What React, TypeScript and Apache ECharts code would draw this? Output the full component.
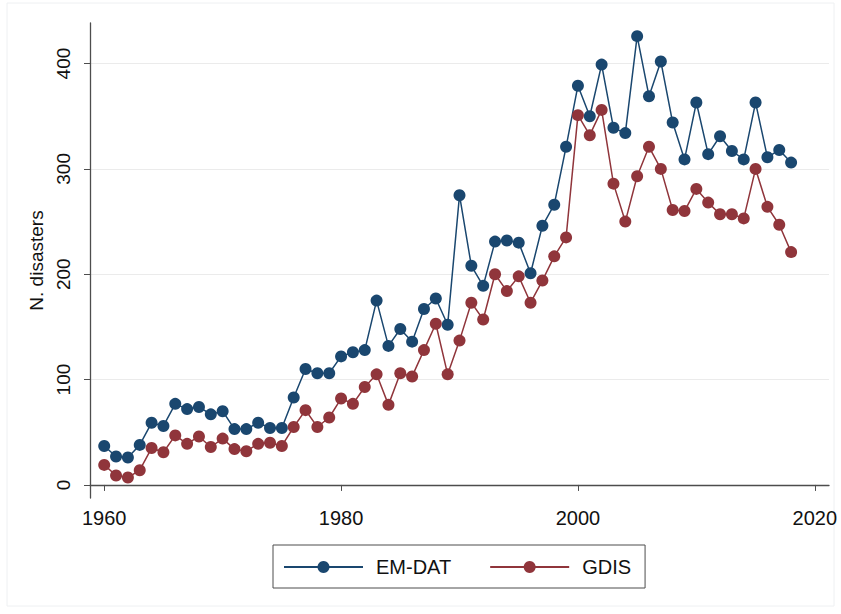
import React, { useEffect, useRef } from "react";
import * as echarts from "echarts";

const years: number[] = [];
for (let y = 1960; y <= 2018; y++) years.push(y);

const emdat = [
  37, 27, 26, 38, 59, 56, 77, 72, 74, 67,
  70, 53, 53, 59, 54, 54, 83, 110, 106, 106,
  122, 126, 128, 175, 132, 148, 136, 167, 177, 152,
  275, 208, 189, 231, 232, 230, 201, 246, 266, 321,
  379, 350, 399, 339, 334, 426, 369, 402, 344, 309,
  363, 314, 331, 317, 309, 363, 311, 318, 306,
];

const gdis = [
  19, 9, 7, 14, 35, 31, 47, 39, 46, 36,
  44, 34, 32, 39, 40, 37, 55, 71, 55, 64,
  82, 77, 93, 105, 76, 106, 103, 128, 153, 105,
  137, 173, 157, 200, 184, 198, 173, 194, 217, 235,
  351, 332, 356, 286, 250, 293, 321, 300, 261, 260,
  281, 268, 257, 257, 253, 300, 264, 247, 221,
];

const xTicks = [1960, 1980, 2000, 2020];
const yTicks = [0, 100, 200, 300, 400];

const FONT = "'Liberation Sans', Arial, Helvetica, sans-serif";
const BLUE = "#1a476f";
const RED = "#90353b";

export default function App() {
  const ref = useRef<HTMLDivElement>(null);
  useEffect(() => {
    if (!ref.current) return;
    const chart = echarts.init(ref.current, null, { renderer: "svg" });
    const mk = (vals: number[]) => years.map((y, i) => [y, vals[i]]);
    chart.setOption({
      animation: false,
      backgroundColor: "#ffffff",
      textStyle: { fontFamily: FONT },
      graphic: [
        {
          type: "rect",
          shape: { x: 7, y: 3, width: 827, height: 603 },
          style: { fill: "none", stroke: "#eef0f2", lineWidth: 1 },
          silent: true,
          z: -10,
        },
      ],
      grid: { left: 90, right: 12, top: 23, bottom: 116, containLabel: false },
      xAxis: {
        type: "value",
        min: 1958.8,
        max: 2021.2,
        axisLine: { show: true, lineStyle: { color: "#4d4d4d", width: 1.3 } },
        axisTick: { show: true, length: 6, customValues: xTicks, lineStyle: { color: "#4d4d4d" } },
        axisLabel: {
          customValues: xTicks,
          formatter: (v: number) => String(v),
          fontSize: 20,
          color: "#111",
          margin: 10,
          fontFamily: FONT,
        },
        splitLine: { show: false },
      },
      yAxis: {
        type: "value",
        min: -12.4,
        max: 438.5,
        name: "N. disasters",
        nameLocation: "middle",
        nameGap: 40,
        nameTextStyle: { fontSize: 19, color: "#111", fontFamily: FONT },
        axisLine: { show: true, lineStyle: { color: "#4d4d4d", width: 1.3 } },
        axisTick: { show: true, length: 6, customValues: yTicks, lineStyle: { color: "#4d4d4d" } },
        axisLabel: {
          customValues: yTicks,
          formatter: (v: number) => String(v),
          rotate: 90,
          fontSize: 19,
          color: "#111",
          margin: 17,
          fontFamily: FONT,
        },
        splitLine: {
          show: true,
          customValues: yTicks,
          lineStyle: { color: "#ebebeb", width: 1.2 },
        },
      },
      legend: {
        left: 273,
        top: 545,
        orient: "horizontal",
        borderColor: "#4d4d4d",
        borderWidth: 1,
        borderRadius: 0,
        padding: [12, 14, 11, 10],
        itemWidth: 79,
        itemHeight: 15,
        itemGap: 38,
        textStyle: { fontSize: 20, color: "#111", fontFamily: FONT, padding: [0, 0, 0, 8] },
        data: ["EM-DAT", "GDIS"],
      },
      series: [
        {
          name: "EM-DAT",
          type: "line",
          data: mk(emdat),
          symbol: "circle",
          symbolSize: 12,
          showSymbol: true,
          lineStyle: { color: BLUE, width: 1.5 },
          itemStyle: { color: BLUE },
        },
        {
          name: "GDIS",
          type: "line",
          data: mk(gdis),
          symbol: "circle",
          symbolSize: 12,
          showSymbol: true,
          lineStyle: { color: RED, width: 1.5 },
          itemStyle: { color: RED },
        },
      ],
    });
    return () => chart.dispose();
  }, []);
  return (
    <div
      ref={ref}
      style={{ position: "fixed", left: 0, top: 0, width: 841, height: 614 }}
    />
  );
}
